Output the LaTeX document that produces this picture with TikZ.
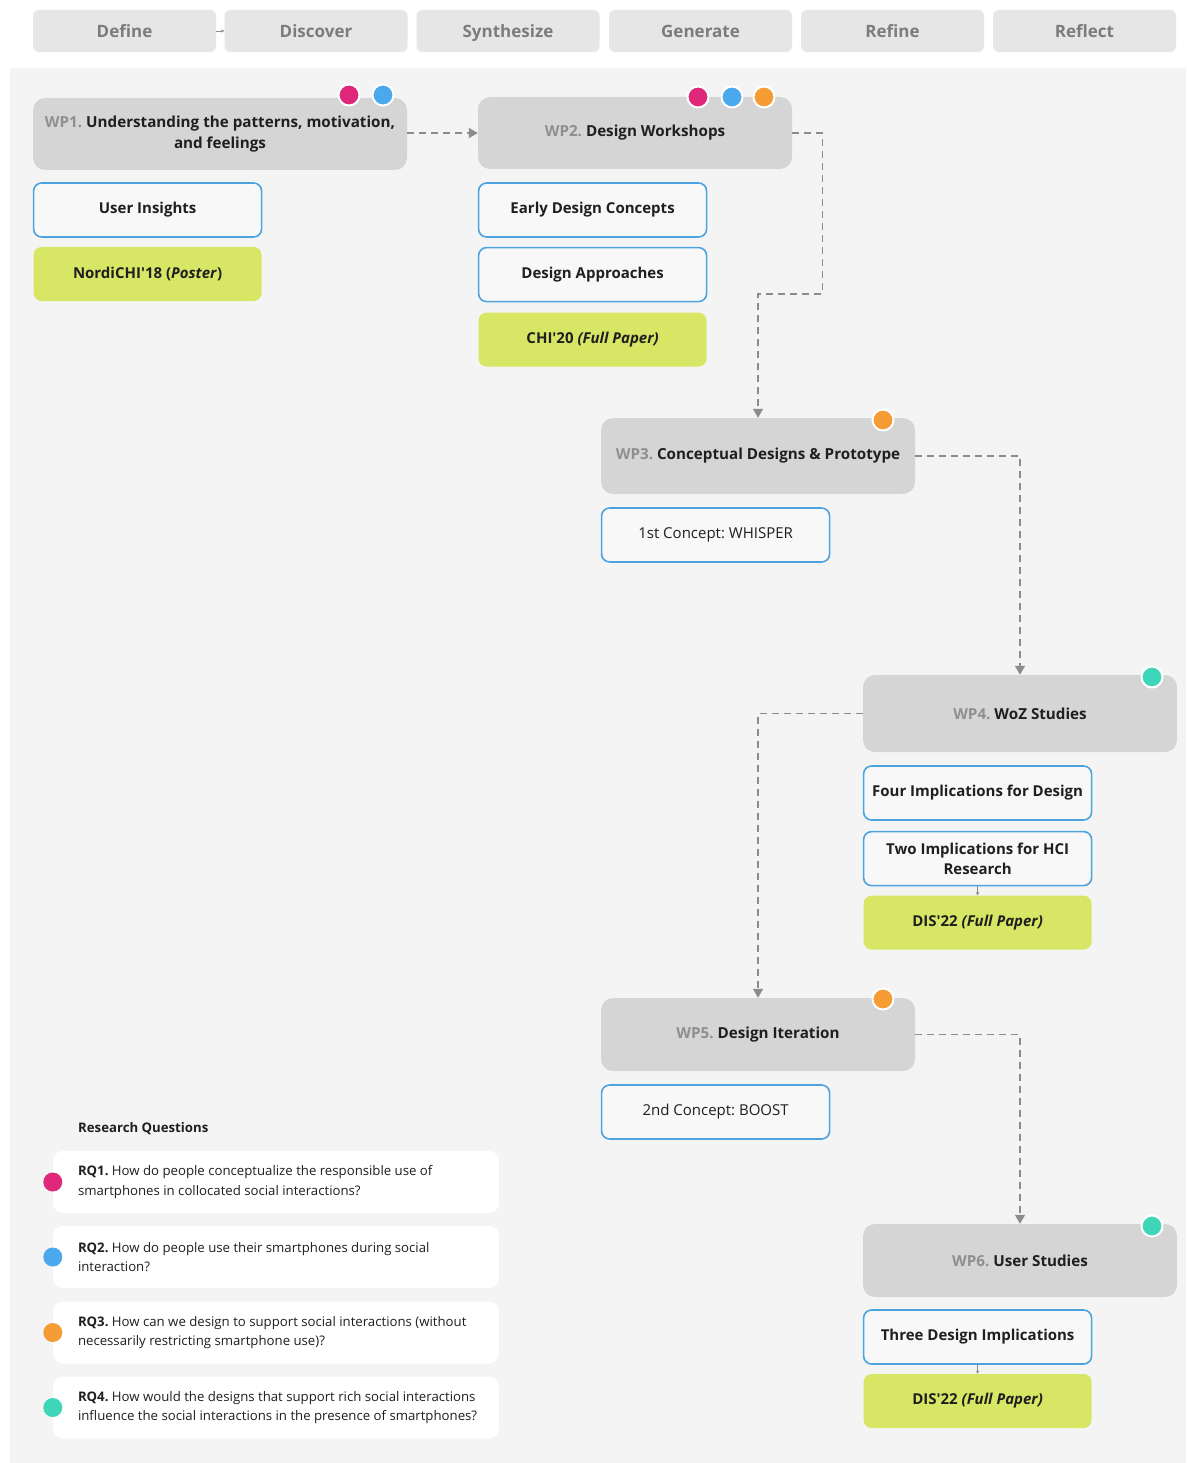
\documentclass[tikz,border=0pt]{standalone}
\usepackage{fontspec}
\setmainfont{Open Sans}
\usetikzlibrary{positioning,arrows.meta}
\frenchspacing

\definecolor{tabgray}{HTML}{E6E6E6}
\definecolor{tabtext}{HTML}{7C7C7C}
\definecolor{panel}{HTML}{F4F4F4}
\definecolor{wpgray}{HTML}{D5D5D5}
\definecolor{wpnum}{HTML}{8F8F8F}
\definecolor{outblue}{HTML}{4DA3E0}
\definecolor{outfill}{HTML}{F8F8F8}
\definecolor{lime}{HTML}{D7E765}
\definecolor{ink}{HTML}{1F1F1F}
\definecolor{rqpink}{HTML}{E0287A}
\definecolor{rqblue}{HTML}{4AA8EC}
\definecolor{rqorange}{HTML}{F59C34}
\definecolor{rqteal}{HTML}{3DD6B8}
\definecolor{flowgray}{HTML}{8C8C8C}

\tikzset{
  phase/.style={fill=tabgray, rounded corners=6pt, minimum width=183pt, minimum height=42pt,
    text height=13.5pt, text depth=0.5pt,
    text=tabtext, font=\bfseries\fontsize{17}{20}\selectfont},
  wp/.style={fill=wpgray, rounded corners=12pt, minimum width=314pt, minimum height=73pt,
    align=center, text=ink, font=\bfseries\fontsize{15.2}{21}\selectfont},
  outcome/.style={draw=outblue, line width=1.6pt, fill=outfill, rounded corners=8pt,
    minimum width=228pt, minimum height=54pt, align=center, text=ink,
    font=\bfseries\fontsize{15}{20.5}\selectfont},
  concept/.style={outcome, font=\fontsize{15}{20}\selectfont},
  paper/.style={fill=lime, rounded corners=8pt, minimum width=228pt, minimum height=54pt,
    text=ink, font=\bfseries\fontsize{15}{20}\selectfont},
  rqdot/.style={circle, draw=white, line width=2pt, minimum size=21pt, inner sep=0pt},
  rqcard/.style={fill=white, rounded corners=10pt, minimum width=446pt, minimum height=62pt},
  rqtext/.style={anchor=west, align=left, inner sep=0pt, text=ink, font=\fontsize{13.2}{19.5}\selectfont},
  flow/.style={draw=flowgray, line width=1.4pt, dash pattern=on 7pt off 5pt,
    -{Triangle[width=10pt,length=9pt]}},
  tick/.style={draw=flowgray, line width=0.6pt, -{Triangle[width=3pt,length=3pt]}}
}

\newcommand{\wpn}[1]{{\color{wpnum}#1}}
\newcommand{\apos}{\textquotesingle}

\begin{document}
\begin{tikzpicture}[x=1pt, y=-1pt, node distance=13pt]
  \useasboundingbox (0,0) rectangle (1186,1463);
  \fill[white] (0,0) rectangle (1186,1463);
  \fill[panel] (10,68) rectangle (1186,1463);

  \node (define) [phase] at (124.5,31) {Define};
  \node (discover) [phase] at (316,31) {Discover};
  \node (synth) [phase] at (508,31) {Synthesize};
  \node (generate) [phase] at (700.5,31) {Generate};
  \node (refine) [phase] at (892.5,31) {Refine};
  \node (reflect) [phase] at (1084.5,31) {Reflect};
  \draw [tick] (define) -- (discover);

  \node (wp1) [wp, minimum width=374pt, minimum height=72pt] at (220,134)
    {\wpn{WP1.} Understanding the patterns, motivation,\\ and feelings};
  \node (wp2) [wp, minimum height=72pt] at (635,133) {\wpn{WP2.} Design Workshops};
  \node (wp3) [wp, minimum height=76pt] at (758,456) {\wpn{WP3.} Conceptual Designs \& Prototype};
  \node (wp4) [wp, minimum height=77pt] at (1020,713.5) {\wpn{WP4.} WoZ Studies};
  \node (wp5) [wp] at (758,1034.5) {\wpn{WP5.} Design Iteration};
  \node (wp6) [wp] at (1020,1260.5) {\wpn{WP6.} User Studies};

  \node (insights) [outcome, below=12pt of wp1.south west, anchor=north west] {User Insights};
  \node (nordichi) [paper, below=9pt of insights] {NordiCHI\apos18 (\textit{Poster})};

  \node (early) [outcome, below=13pt of wp2.south west, anchor=north west] {Early Design Concepts};
  \node (approaches) [outcome, below=9pt of early] {Design Approaches};
  \node (chi) [paper, below=10pt of approaches] {CHI\apos20 \textit{(Full Paper)}};

  \node (whisper) [concept, below=13pt of wp3.south west, anchor=north west] {1st Concept: WHISPER};

  \node (fourimpl) [outcome, below=13pt of wp4.south west, anchor=north west] {Four Implications for Design};
  \node (twoimpl) [outcome, below=10pt of fourimpl] {Two Implications for HCI\\[-1pt] Research};
  \node (dis1) [paper, below=9pt of twoimpl] {DIS\apos22 \textit{(Full Paper)}};
  \draw [tick] (twoimpl) -- (dis1);

  \node (boost) [concept, below=13pt of wp5.south west, anchor=north west] {2nd Concept: BOOST};

  \node (threeimpl) [outcome, below=12pt of wp6.south west, anchor=north west] {Three Design Implications};
  \node (dis2) [paper, below=9pt of threeimpl] {DIS\apos22 \textit{(Full Paper)}};
  \draw [tick] (threeimpl) -- (dis2);

  \node (d1a) [rqdot, fill=rqpink] at (349,95) {};
  \node (d1b) [rqdot, fill=rqblue] at (383,95) {};
  \node (d2a) [rqdot, fill=rqpink] at (698,97) {};
  \node (d2b) [rqdot, fill=rqblue] at (732,97) {};
  \node (d2c) [rqdot, fill=rqorange] at (764,97) {};
  \node (d3) [rqdot, fill=rqorange] at (883,420) {};
  \node (d4) [rqdot, fill=rqteal] at (1152,677) {};
  \node (d5) [rqdot, fill=rqorange] at (883,999) {};
  \node (d6) [rqdot, fill=rqteal] at (1152,1226) {};

  \draw [flow] (wp1.east |- wp2) -- (wp2);
  \draw [flow] (wp2.east) -- ++(30,0) -- ++(0,161) -| (wp3.north);
  \draw [flow] (wp3.east) -| (wp4.north);
  \draw [flow] (wp4.west) -| (wp5.north);
  \draw [flow] (wp5.east) -| (wp6.north);

  \node (rqtitle) [anchor=west, inner sep=0pt, text=ink, font=\bfseries\fontsize{13.2}{15}\selectfont]
    at (78,1129) {Research Questions};

  \node (rq1) [rqcard] at (276,1182) {};
  \node (rq2) [rqcard] at (276,1257) {};
  \node (rq3) [rqcard] at (276,1332.5) {};
  \node (rq4) [rqcard] at (276,1407.5) {};

  \node (rq1t) [rqtext] at ([xshift=25pt]rq1.west)
    {\textbf{RQ1.} How do people conceptualize the responsible use of\\ smartphones in collocated social interactions?};
  \node (rq2t) [rqtext] at ([xshift=25pt]rq2.west)
    {\textbf{RQ2.} How do people use their smartphones during social\\ interaction?};
  \node (rq3t) [rqtext] at ([xshift=25pt]rq3.west)
    {\textbf{RQ3.} How can we design to support social interactions (without\\ necessarily restricting smartphone use)?};
  \node (rq4t) [rqtext] at ([xshift=25pt]rq4.west)
    {\textbf{RQ4.} How would the designs that support rich social interactions\\ influence the social interactions in the presence of smartphones?};

  \node (q1) [rqdot, draw=none, minimum size=19pt, fill=rqpink] at (rq1.west) {};
  \node (q2) [rqdot, draw=none, minimum size=19pt, fill=rqblue] at (rq2.west) {};
  \node (q3) [rqdot, draw=none, minimum size=19pt, fill=rqorange] at (rq3.west) {};
  \node (q4) [rqdot, draw=none, minimum size=19pt, fill=rqteal] at (rq4.west) {};
\end{tikzpicture}
\end{document}
